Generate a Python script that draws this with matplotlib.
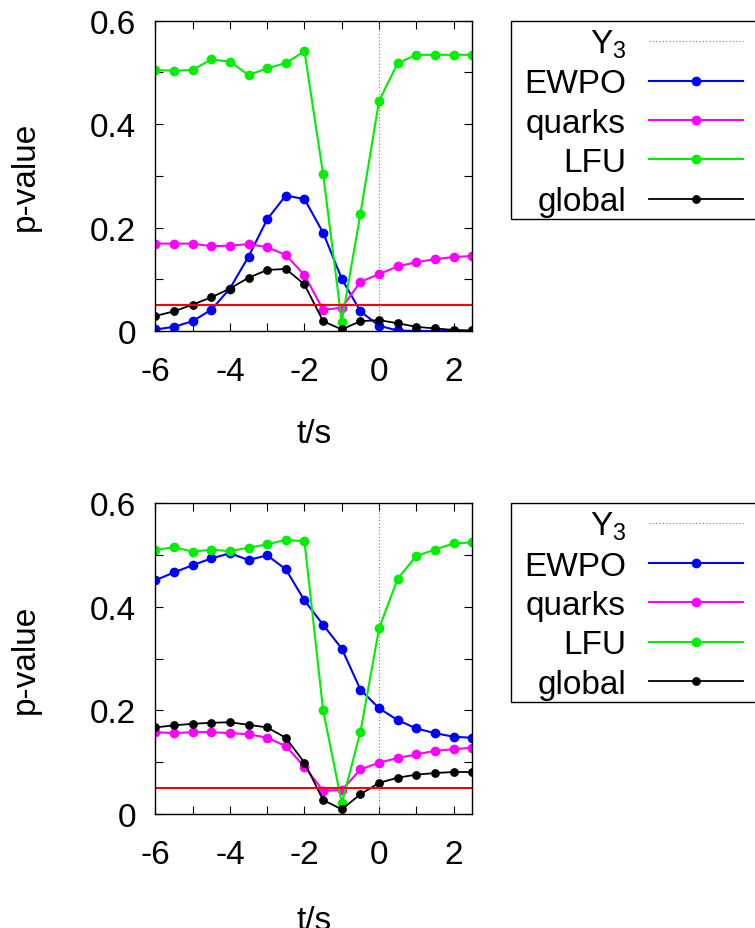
import numpy as np
import matplotlib
matplotlib.use('Agg')
import matplotlib.pyplot as plt
from matplotlib.ticker import FixedLocator
from matplotlib.patches import Rectangle

plt.rcParams['font.family'] = ['Liberation Sans', 'DejaVu Sans']
plt.rcParams['mathtext.fontset'] = 'custom'
plt.rcParams['mathtext.rm'] = 'Liberation Sans'
plt.rcParams['mathtext.it'] = 'Liberation Sans'
plt.rcParams['axes.unicode_minus'] = False

# t/s grid points
t = [-6.0, -5.5, -5.0, -4.5, -4.0, -3.5, -3.0, -2.5, -2.0,
     -1.5, -1.0, -0.5, 0.0, 0.5, 1.0, 1.5, 2.0, 2.5]

# top panel
ewpo_top = [0.003, 0.008, 0.019, 0.041, 0.082, 0.144, 0.216, 0.262, 0.255,
            0.190, 0.101, 0.038, 0.010, 0.001, 0.0, 0.0, 0.0, 0.0]
quarks_top = [0.169, 0.169, 0.169, 0.164, 0.165, 0.168, 0.162, 0.147, 0.108,
              0.041, 0.045, 0.095, 0.110, 0.125, 0.133, 0.139, 0.143, 0.145]
lfu_top = [0.505, 0.503, 0.505, 0.525, 0.521, 0.495, 0.508, 0.518, 0.541,
           0.303, 0.018, 0.227, 0.445, 0.518, 0.534, 0.534, 0.534, 0.534]
global_top = [0.029, 0.038, 0.051, 0.065, 0.082, 0.103, 0.118, 0.120, 0.090,
              0.019, 0.003, 0.019, 0.021, 0.015, 0.008, 0.005, 0.002, 0.001]

# bottom panel
ewpo_bot = [0.451, 0.466, 0.480, 0.493, 0.503, 0.490, 0.499, 0.472, 0.412,
            0.365, 0.319, 0.240, 0.204, 0.181, 0.165, 0.156, 0.149, 0.147]
quarks_bot = [0.158, 0.156, 0.158, 0.158, 0.156, 0.154, 0.147, 0.131, 0.091,
              0.045, 0.046, 0.086, 0.099, 0.108, 0.115, 0.122, 0.125, 0.128]
lfu_bot = [0.509, 0.515, 0.506, 0.510, 0.507, 0.514, 0.520, 0.529, 0.526,
           0.200, 0.021, 0.158, 0.358, 0.454, 0.498, 0.510, 0.522, 0.524]
global_bot = [0.167, 0.171, 0.174, 0.176, 0.177, 0.172, 0.167, 0.147, 0.099,
              0.027, 0.009, 0.038, 0.060, 0.070, 0.076, 0.079, 0.081, 0.081]

y3_t = 0.0
p_cut = 0.05

xticks = [-6, -4, -2, 0, 2]
xminor = [-5, -3, -1, 1]
yticks = [0, 0.2, 0.4, 0.6]
ylabels = ['0', '0.2', '0.4', '0.6']
yminor = [0.1, 0.3, 0.5]

W, H = 755, 929
fig = plt.figure(figsize=(W / 100, H / 100), dpi=100)

FS = 24


def panel(rect, ewpo, quarks, lfu, glob, legend_top, xlab_y):
    ax = fig.add_axes(rect)
    ax.axvline(y3_t, color='#777777', ls=(0, (1, 2)), lw=0.8, label='Y$_3$')
    ax.plot(t, ewpo, '-o', color='#0000ff', lw=1.5, ms=6, label='EWPO')
    ax.plot(t, quarks, '-o', color='#ff00ff', lw=1.5, ms=6, label='quarks')
    ax.plot(t, lfu, '-o', color='#00ee00', lw=1.5, ms=6, label='LFU')
    ax.plot(t, glob, '-o', color='black', lw=1.3, ms=5.3, label='global')
    ax.axhline(p_cut, color='red', lw=1.5)
    ax.set_xlim(-6, 2.5)
    ax.set_ylim(0, 0.6)
    ax.xaxis.set_major_locator(FixedLocator(xticks))
    ax.xaxis.set_minor_locator(FixedLocator(xminor))
    ax.set_yticks(yticks)
    ax.set_yticklabels(ylabels)
    ax.yaxis.set_minor_locator(FixedLocator(yminor))
    ax.tick_params(which='both', direction='in', length=6, width=0.8,
                   top=True, right=True, labelsize=FS)
    ax.tick_params(axis='x', which='major', pad=18)
    ax.tick_params(axis='y', which='major', pad=14)
    for s in ax.spines.values():
        s.set_linewidth(1.0)
    ax.set_xlabel('t/s', fontsize=FS, va='top')
    ax.xaxis.set_label_coords(0.5, xlab_y)
    ax.set_ylabel('p-value', fontsize=FS, va='center')
    ax.yaxis.set_label_coords(-0.411, 0.5)
    # key: no padding on the entries, frame drawn separately (gnuplot style)
    ax.legend(loc='upper left',
              bbox_to_anchor=(524 / W, 1 - (legend_top + 7) / H),
              bbox_transform=fig.transFigure, borderaxespad=0,
              markerfirst=False, numpoints=1, fontsize=FS,
              handlelength=2.83, handletextpad=0.69, labelspacing=0.25,
              borderpad=0, frameon=False)
    fig.patches.append(Rectangle((511 / W, 1 - (legend_top + 198.5) / H),
                                 260 / W, 198.5 / H, transform=fig.transFigure,
                                 fill=False, edgecolor='black', lw=1.0))
    return ax


panel([155.3 / W, 1 - 332 / H, 317 / W, 310.3 / H],
      ewpo_top, quarks_top, lfu_top, global_top, 21.7, -0.28)
panel([155.3 / W, 1 - 815 / H, 317 / W, 311 / H],
      ewpo_bot, quarks_bot, lfu_bot, global_bot, 504, -0.293)

fig.savefig('out.png', dpi=100)
